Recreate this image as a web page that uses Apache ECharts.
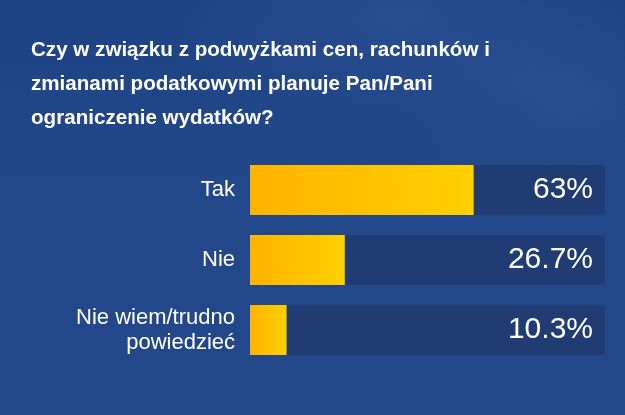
<!DOCTYPE html>
<html>
<head>
    <meta charset="utf-8">
    <title>Ograniczenie wydatków</title>
    <style>
        *{
            margin: 0;
            padding: 0;
        }
        body{
            width: 625px;
            height: 415px;
            overflow: hidden;
            background: radial-gradient(ellipse 240px 110px at 400px 15px, rgba(55,95,165,0.35), rgba(55,95,165,0) 100%),
                        radial-gradient(ellipse 180px 100px at 570px 95px, rgba(55,95,165,0.3), rgba(55,95,165,0) 100%),
                        linear-gradient(180deg, #1e4384 0%, #22488a 45%, #22488a 100%);
        }
        #main{
            width: 625px;
            height: 415px;
        }
    </style>
    <script src="https://cdn.jsdelivr.net/npm/echarts@6/dist/echarts.min.js"></script>
</head>
<body>
    <div id="main"></div>
    <script type="text/javascript">
        // dane
        var categories = ['Tak', 'Nie', 'Nie wiem/trudno\npowiedzieć'];
        var values = [63, 26.7, 10.3];
        var trackMax = [100, 100, 100];
        var titleText = 'Czy w związku z podwyżkami cen, rachunków i\nzmianami podatkowymi planuje Pan/Pani\nograniczenie wydatków?';

        var chart = echarts.init(document.getElementById('main'));

        var font = '"Liberation Sans", Arial, sans-serif';

        var option = {
            backgroundColor: 'transparent',
            animation: false,
            title: {
                text: titleText,
                left: 26,
                top: 28,
                textStyle: {
                    color: '#ffffff',
                    fontFamily: font,
                    fontWeight: 'bold',
                    fontSize: 20.6,
                    lineHeight: 34
                }
            },
            grid: {
                left: 250,
                right: 20,
                top: 155,
                bottom: 50
            },
            xAxis: {
                type: 'value',
                min: 0,
                max: 100,
                show: false
            },
            yAxis: {
                type: 'category',
                data: categories,
                inverse: true,
                axisLine: { show: false },
                axisTick: { show: false },
                splitLine: { show: false },
                axisLabel: {
                    color: '#ffffff',
                    fontFamily: font,
                    fontSize: 22,
                    lineHeight: 25,
                    margin: 15,
                    align: 'right'
                }
            },
            series: [
                {
                    name: 'tlo',
                    type: 'bar',
                    data: trackMax,
                    barWidth: 50,
                    silent: true,
                    itemStyle: { color: '#203c73' },
                    label: {
                        show: true,
                        position: 'insideRight',
                        distance: 12,
                        color: '#ffffff',
                        fontFamily: font,
                        fontSize: 30,
                        formatter: function (p) {
                            return values[p.dataIndex] + '%';
                        }
                    },
                    z: 1
                },
                {
                    name: 'wynik',
                    type: 'bar',
                    data: values,
                    barWidth: 50,
                    barGap: '-100%',
                    itemStyle: {
                        color: new echarts.graphic.LinearGradient(0, 0, 1, 0, [
                            { offset: 0, color: '#ffb300' },
                            { offset: 1, color: '#ffd000' }
                        ])
                    },
                    z: 2
                }
            ]
        };
        chart.setOption(option);
    </script>
</body>
</html>
